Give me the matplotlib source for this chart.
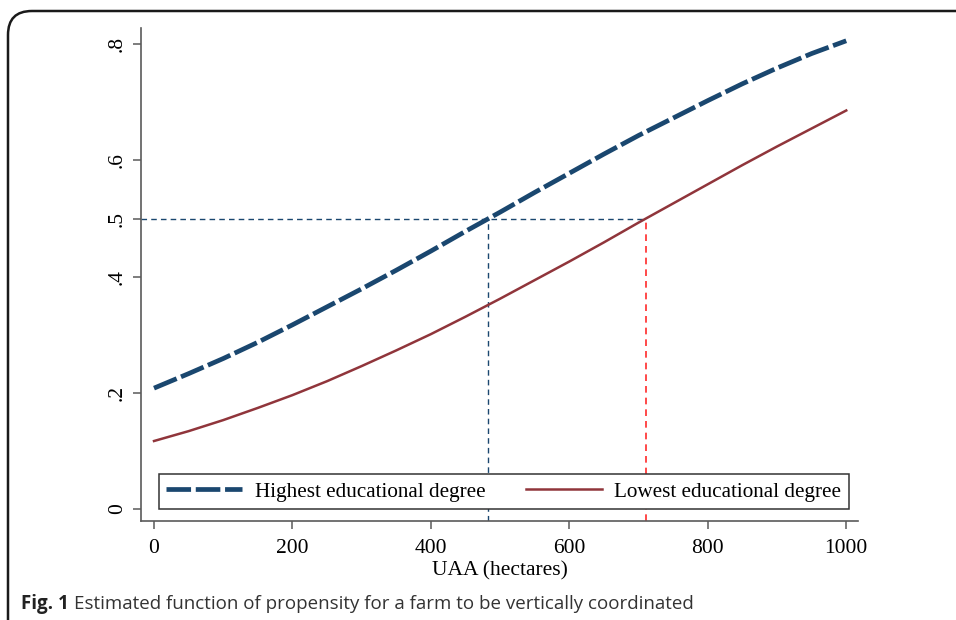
import matplotlib
matplotlib.use("Agg")
import matplotlib.pyplot as plt
from matplotlib.patches import FancyBboxPatch
import numpy as np

# Werte (alle 50 ha)
uaa = [0, 50, 100, 150, 200, 250, 300, 350, 400, 450, 500,
       550, 600, 650, 700, 750, 800, 850, 900, 950, 1000]
p_highest = [0.208, 0.233, 0.259, 0.287, 0.317, 0.348, 0.379, 0.411, 0.444, 0.478, 0.511,
             0.545, 0.578, 0.611, 0.643, 0.673, 0.703, 0.732, 0.759, 0.784, 0.806]
p_lowest = [0.117, 0.134, 0.153, 0.174, 0.196, 0.220, 0.246, 0.273, 0.301, 0.331, 0.362,
            0.394, 0.426, 0.459, 0.493, 0.526, 0.559, 0.592, 0.624, 0.655, 0.686]
ref_p = 0.5
x_cross_high = 483
x_cross_low = 711
yticks = [0, 0.2, 0.4, 0.5, 0.6, 0.8]
ytick_labels = ["0", ".2", ".4", ".5", ".6", ".8"]
xticks = [0, 200, 400, 600, 800, 1000]

navy = "#1a476f"
maroon = "#90353b"
red = "#ff2a2a"
grey = "#5a5a5a"
W, H = 956, 620

fig = plt.figure(figsize=(W / 100, H / 100), dpi=100)

# Rahmen mit abgerundeter Ecke
frame = FancyBboxPatch((8 / W, -0.2), 1.2, 1 - 11 / H + 0.2,
                       boxstyle="round,pad=0,rounding_size=0.025",
                       transform=fig.transFigure, fill=False,
                       edgecolor="#1a1a1a", linewidth=1.8, mutation_aspect=W / H)
fig.patches.append(frame)

ax = fig.add_axes([141 / W, 1 - 521 / H, (858 - 141) / W, (521 - 28) / H])
ax.set_xlim(-18.8, 1017)
ax.set_ylim(-0.0207, 0.828)

serif = "Liberation Serif"

# Hilfslinien
ax.plot([-18.8, x_cross_low], [ref_p, ref_p], color=navy, lw=1.0, ls=(0, (4, 3)))
ax.plot([x_cross_high, x_cross_high], [-0.0207, ref_p], color=navy, lw=1.0, ls=(0, (4, 3)))
ax.plot([x_cross_low, x_cross_low], [-0.0207, ref_p], color=red, lw=1.2, ls=(0, (4, 3)))

ax.plot(uaa, p_highest, color=navy, lw=3.4, ls=(0, (5.2, 1.0)),
        label="Highest educational degree")
ax.plot(uaa, p_lowest, color=maroon, lw=1.8, label="Lowest educational degree")

for s in ["top", "right"]:
    ax.spines[s].set_visible(False)
for s in ["left", "bottom"]:
    ax.spines[s].set_color(grey)
    ax.spines[s].set_linewidth(1.2)

ax.set_xticks(xticks)
ax.set_yticks(yticks)
ax.set_yticklabels(ytick_labels, rotation=90, va="center")
ax.tick_params(axis="both", colors=grey, length=6, width=1.1, direction="out",
               labelcolor="black", labelsize=15.5)
ax.tick_params(axis="x", pad=7)
ax.tick_params(axis="y", pad=4)
for lab in ax.get_xticklabels() + ax.get_yticklabels():
    lab.set_family(serif)

ax.set_xlabel("UAA (hectares)", family=serif, fontsize=15.5, labelpad=2)

leg = ax.legend(loc="lower left", bbox_to_anchor=(0.0251, 0.0243, 0.962, 0.0771),
                mode="expand", ncol=2, frameon=True, fancybox=False,
                edgecolor="#333333", framealpha=1, borderaxespad=0,
                prop={"family": serif, "size": 15.2}, handlelength=3.6,
                handletextpad=0.6, columnspacing=1.2, borderpad=0.35)
leg.get_frame().set_linewidth(1.1)

# Bildunterschrift
fig.canvas.draw()
renderer = fig.canvas.get_renderer()
t1 = fig.text(21 / W, 1 - 604 / H, "Fig. 1", family="Open Sans", weight="bold",
              fontsize=13.5, color="#222222", va="center")
bb = t1.get_window_extent(renderer)
fig.text((bb.x1 + 5) / W, 1 - 604 / H,
         "Estimated function of propensity for a farm to be vertically coordinated",
         family="Open Sans", fontsize=13.5, color="#333333", va="center")

fig.savefig("out.png", dpi=100)
